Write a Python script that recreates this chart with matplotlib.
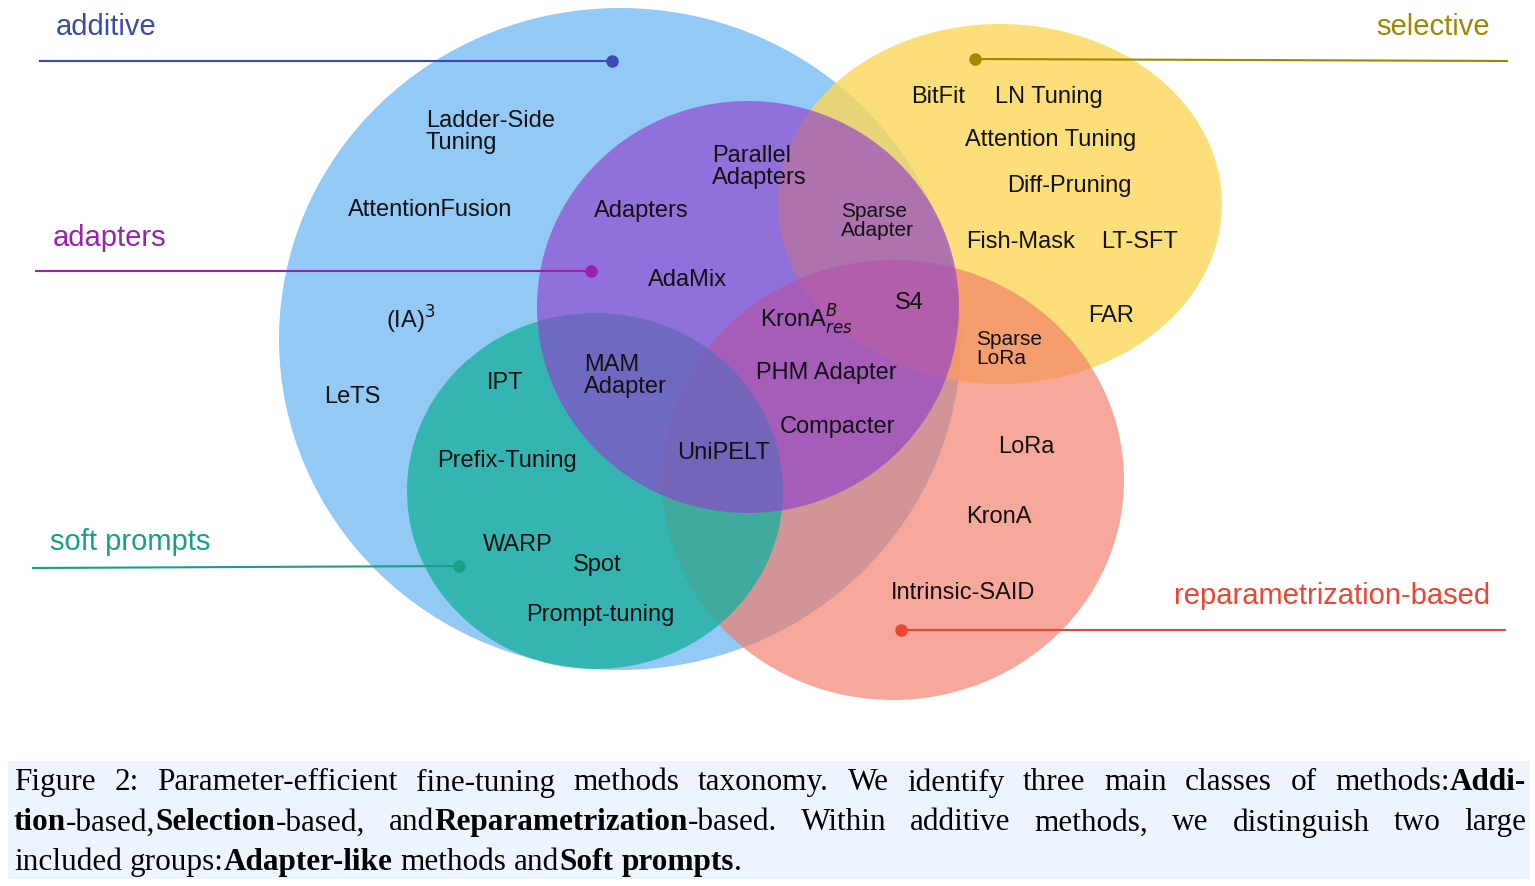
import matplotlib.pyplot as plt
from matplotlib.patches import Ellipse, Rectangle

# circles: name, center x, center y, rx, ry, colour, alpha (drawn in this order)
sets = ["additive", "selective", "reparam", "soft prompts", "adapters"]
cx = [620, 1000, 893, 595, 748]
cy = [340, 205, 481, 492, 308]
rx = [341, 222, 231, 188, 211]
ry = [331, 180, 220, 178, 206]
fills = ["#92c9f5", "#fcd85a", "#f47a66", "#1db0a0", "#9040cc"]
alphas = [1.0, 0.8, 0.65, 0.8, 0.65]

# group labels with pointer lines
group_names = ["additive", "selective", "adapters", "soft prompts", "reparametrization-based"]
group_text_xy = [(56, 27), (1490, 27), (53, 238), (50, 542), (1490, 596)]
group_ha = ["left", "right", "left", "left", "right"]
group_colors = ["#3c4aae", "#a18600", "#9b22b0", "#16a085", "#ee4430"]
line_from = [(40, 62), (1507, 62), (36, 272), (33, 569), (1505, 631)]
line_to = [(612, 62), (975, 60), (591, 272), (459, 567), (901, 631)]

methods = [
    ("Ladder-Side\nTuning", 426, 132),
    ("AttentionFusion", 348, 210),
    ("(IA)$^3$", 386, 320),
    ("LeTS", 324, 397),
    ("Parallel\nAdapters", 712, 167),
    ("Adapters", 594, 211),
    ("AdaMix", 648, 280),
    ("Sparse\nAdapter", 841, 221),
    ("BitFit", 911, 97),
    ("LN Tuning", 995, 97),
    ("Attention Tuning", 965, 140),
    ("Diff-Pruning", 1007, 186),
    ("Fish-Mask", 966, 242),
    ("LT-SFT", 1101, 242),
    ("FAR", 1088, 316),
    ("S4", 895, 303),
    ("KronA$^{B}_{res}$", 760, 320),
    ("MAM\nAdapter", 584, 376),
    ("IPT", 487, 383),
    ("PHM Adapter", 756, 373),
    ("Compacter", 780, 427),
    ("UniPELT", 677, 453),
    ("Prefix-Tuning", 437, 461),
    ("WARP", 483, 545),
    ("Spot", 573, 565),
    ("Prompt-tuning", 526, 615),
    ("LoRa", 998, 447),
    ("KronA", 966, 517),
    ("Intrinsic-SAID", 891, 593),
]

caption = [
    [("Figure 2: Parameter-efficient fine-tuning methods taxonomy.  We identify three main classes of methods: ", False), ("Addi-", True)],
    [("tion", True), ("-based, ", False), ("Selection", True), ("-based, and ", False), ("Reparametrization", True),
     ("-based.  Within additive methods, we distinguish two large", False)],
    [("included groups: ", False), ("Adapter-like", True), (" methods and ", False), ("Soft prompts", True), (".", False)],
]
justify = [True, True, False]

fig = plt.figure(figsize=(15.35, 8.87), dpi=100)
ax = fig.add_axes([0, 0, 1, 1])
ax.set_xlim(0, 1535)
ax.set_ylim(887, 0)
ax.axis("off")

for i in range(len(sets)):
    ax.add_patch(Ellipse((cx[i], cy[i]), 2 * rx[i], 2 * ry[i], color=fills[i], alpha=alphas[i], lw=0))

for name, (tx, ty), ha, c, p0, p1 in zip(group_names, group_text_xy, group_ha, group_colors, line_from, line_to):
    ax.text(tx, ty, name, color=c, fontsize=21, ha=ha, va="center", family="Liberation Sans")
    ax.plot([p0[0], p1[0]], [p0[1], p1[1]], color=c, lw=1.5)
    ax.plot(p1[0], p1[1], "o", color=c, ms=8)

for txt, x, y in methods:
    small = txt.startswith("Sparse")
    ax.text(x, y, txt, fontsize=15 if small else 17, ha="left", va="center", color="#111111",
            family="Liberation Sans", linespacing=1.05)
ax.text(976, 349, "Sparse\nLoRa", fontsize=15, va="center", color="#111111", family="Liberation Sans", linespacing=1.05)

# caption box
ax.add_patch(Rectangle((8, 762), 1522, 118, color="#eef4fd", lw=0))
fig.canvas.draw()
r = fig.canvas.get_renderer()
inv = ax.transData.inverted()
left, right = 14, 1526


def width(s, bold):
    t = ax.text(0, 0, s, fontsize=22.5, family="Liberation Serif", weight="bold" if bold else "normal")
    bb = t.get_window_extent(r)
    t.remove()
    return bb.width


for k, line in enumerate(caption):
    y = 783 + 40 * k
    # split into words keeping bold flags
    words = []
    for seg, bold in line:
        parts = seg.split(" ")
        for j, p in enumerate(parts):
            if p == "":
                continue
            glue = j == 0 and words and not seg.startswith(" ")
            words.append([p, bold, glue])
    # merge glued pieces into groups (no space between)
    groups = []
    for w, bold, glue in words:
        if glue and groups:
            groups[-1].append((w, bold))
        else:
            groups.append([(w, bold)])
    gw = [sum(width(w, b) for w, b in g) for g in groups]
    space = width("a b", False) - width("ab", False)
    if justify[k]:
        space = (right - left - sum(gw)) / (len(groups) - 1)
    x = left
    for g, w_ in zip(groups, gw):
        xx = x
        for w, b in g:
            ax.text(xx, y, w, fontsize=22.5, family="Liberation Serif",
                    weight="bold" if b else "normal", va="center", ha="left")
            xx += width(w, b)
        x += w_ + space

fig.savefig("out.png", dpi=100)
